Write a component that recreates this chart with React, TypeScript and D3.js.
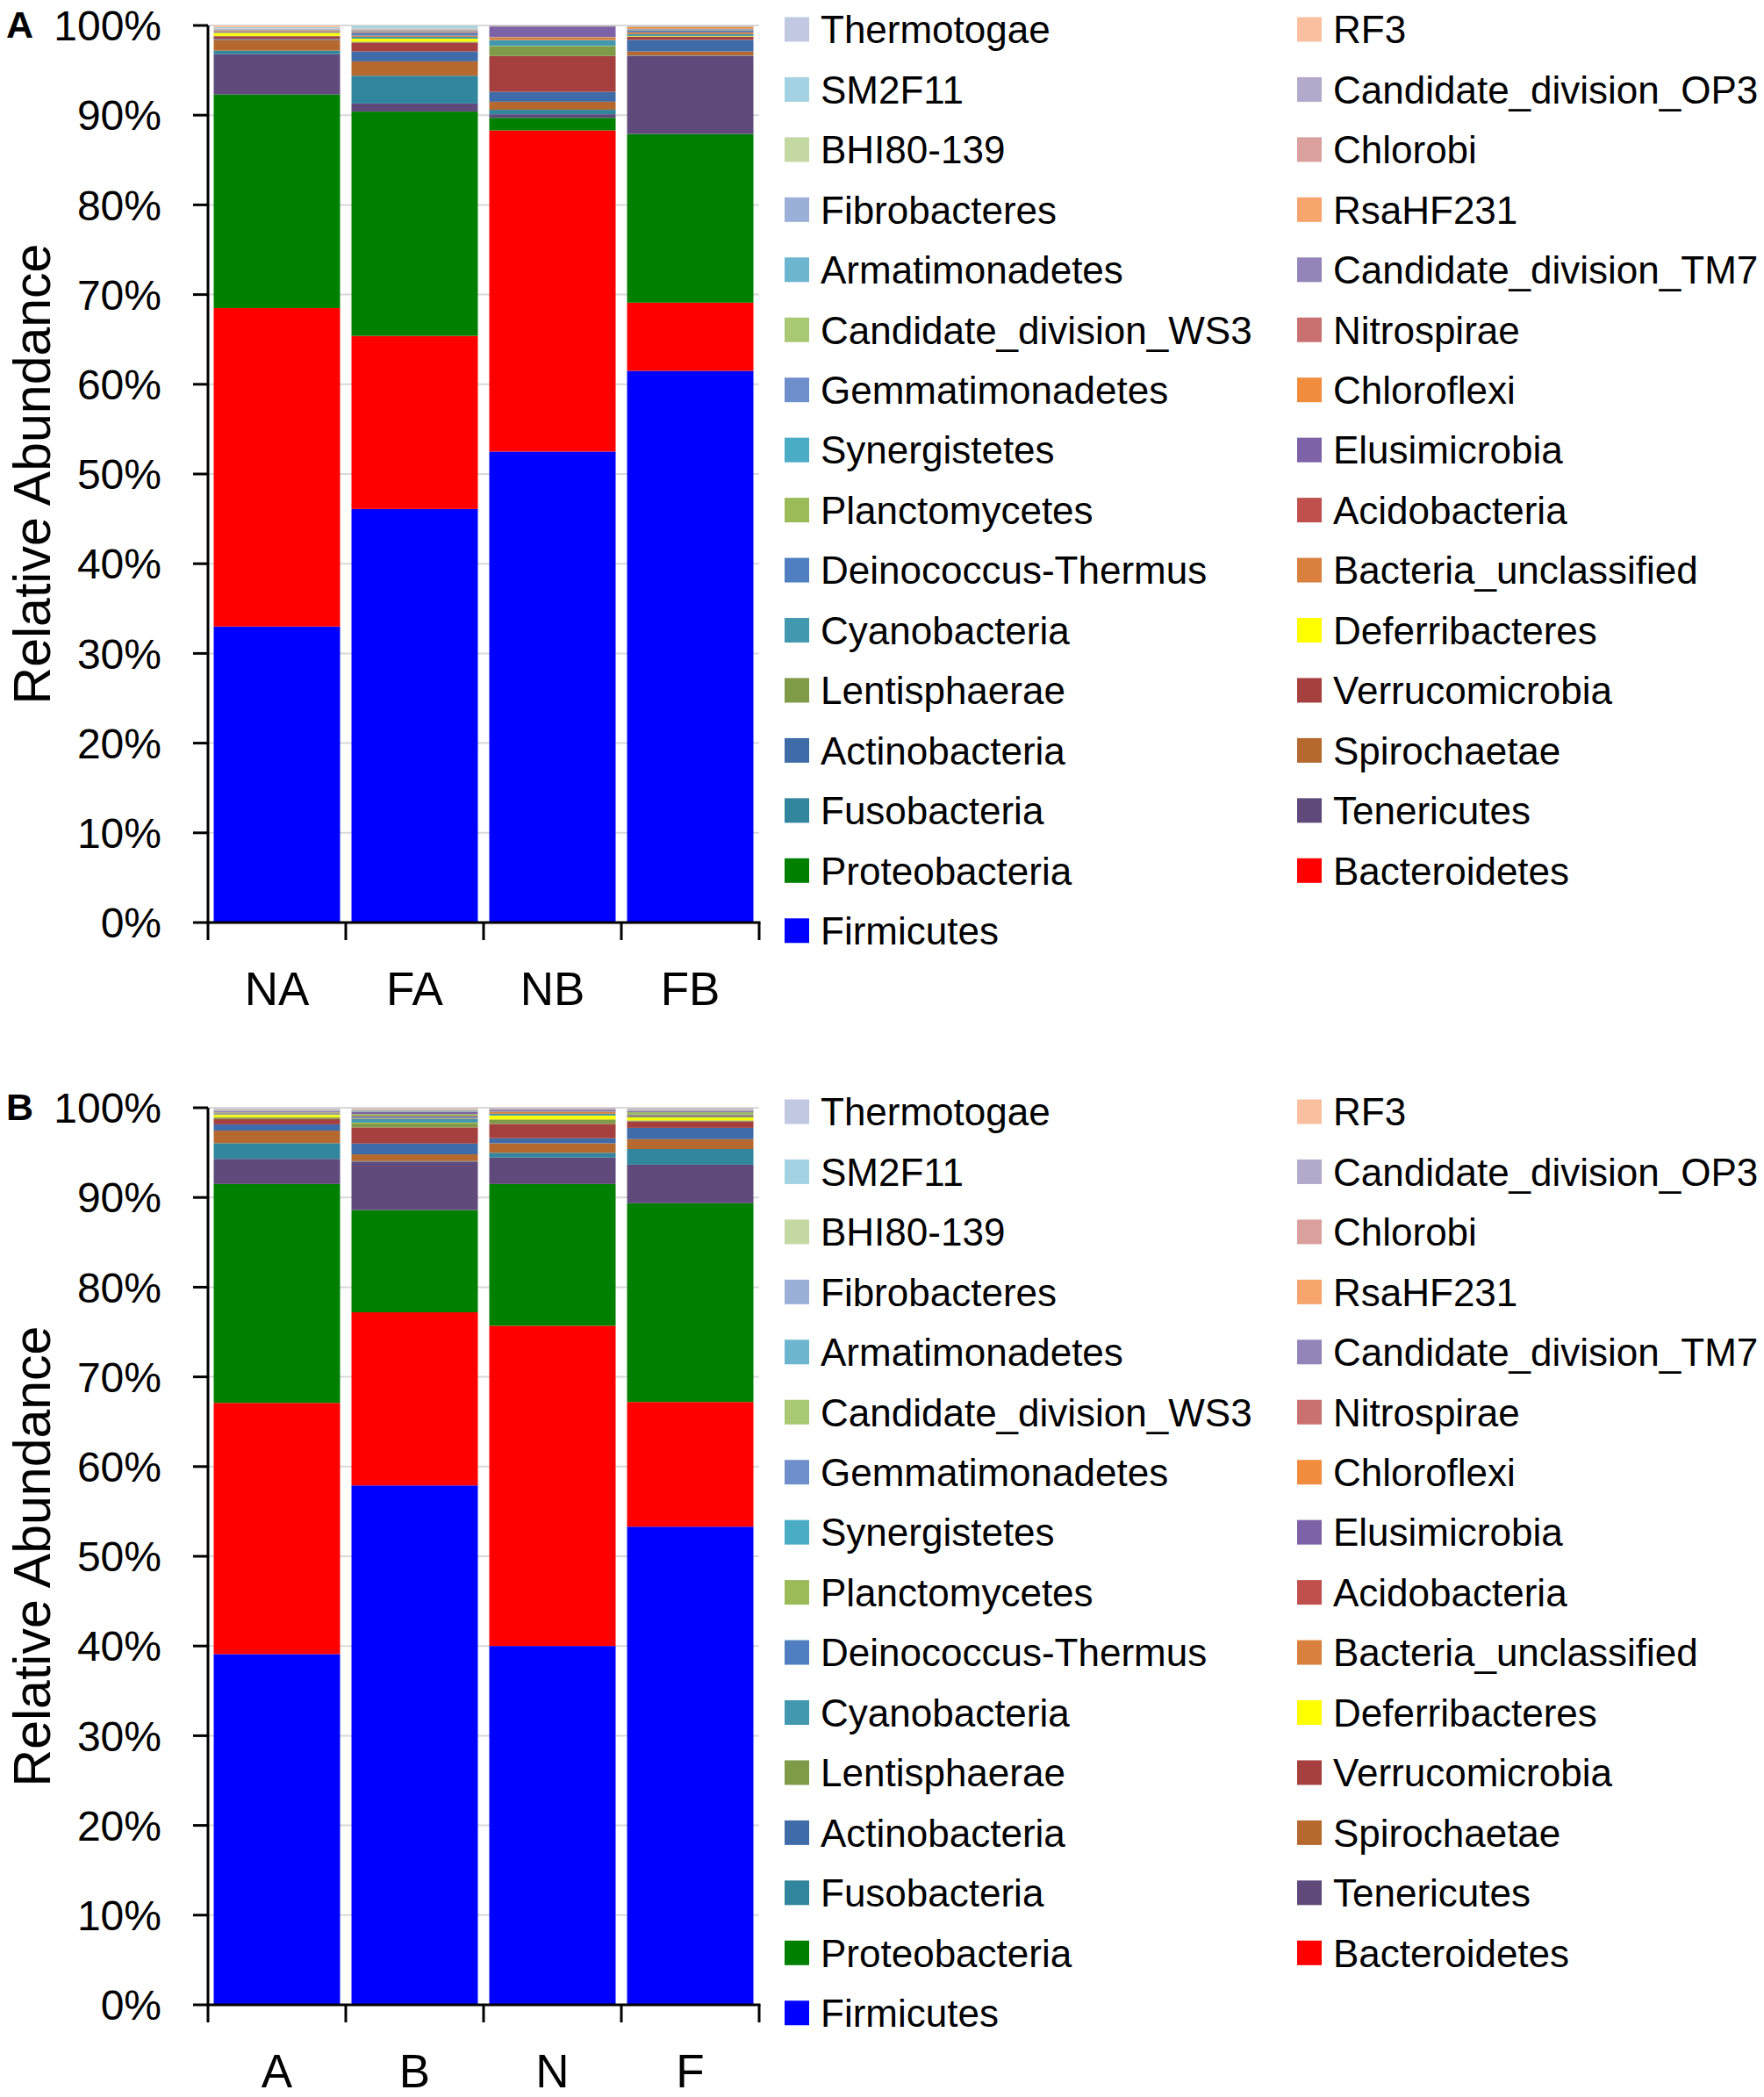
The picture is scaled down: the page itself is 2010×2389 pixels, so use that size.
import React from 'react';
import * as d3 from 'd3';

// Stack order (bottom to top)
const taxa = [
  'Firmicutes', 'Bacteroidetes', 'Proteobacteria', 'Tenericutes', 'Fusobacteria',
  'Spirochaetae', 'Actinobacteria', 'Verrucomicrobia', 'Lentisphaerae', 'Deferribacteres',
  'Cyanobacteria', 'Bacteria_unclassified', 'Deinococcus-Thermus', 'Acidobacteria', 'Planctomycetes',
  'Elusimicrobia', 'Synergistetes', 'Chloroflexi', 'Gemmatimonadetes', 'Nitrospirae',
  'Candidate_division_WS3', 'Candidate_division_TM7', 'Armatimonadetes', 'RsaHF231', 'Fibrobacteres',
  'Chlorobi', 'BHI80-139', 'Candidate_division_OP3', 'SM2F11', 'RF3', 'Thermotogae',
];

const taxaColors = [
  '#0000FF', '#FF0000', '#008000', '#5F4A7B', '#31859C',
  '#B5692F', '#3F6CA8', '#A5403E', '#7F9B48', '#FFFF00',
  '#4198AF', '#D9803F', '#4F7FC0', '#C0504D', '#9BBB59',
  '#7E62A8', '#4BACC6', '#F08C3C', '#6F8FCC', '#C87170',
  '#A9C874', '#9384BA', '#6CB6CF', '#F7A46D', '#9BB0D8',
  '#D9A09E', '#C4D8A2', '#B3AACB', '#A3D2E2', '#F9C09F', '#C0C8E2',
];

const samplesA = ['NA', 'FA', 'NB', 'FB'];
const samplesB = ['A', 'B', 'N', 'F'];

// Relative abundance (%) per sample, in taxa order
const valuesNA = [33.0, 35.5, 23.8, 4.5, 0.4, 1.2, 0.1, 0.3, 0.05, 0.3, 0.05, 0.1, 0.05, 0.05, 0.03, 0.03, 0.03, 0.02, 0.02, 0.02, 0.02, 0.02, 0.02, 0.02, 0.02, 0.02, 0.02, 0.02, 0.1, 0.2, 0.02];
const valuesFA = [46.1, 19.3, 25.0, 0.9, 3.1, 1.6, 1.1, 1.0, 0.1, 0.33, 0.2, 0.15, 0.3, 0.1, 0.05, 0.05, 0.05, 0.05, 0.02, 0.02, 0.02, 0.02, 0.02, 0.02, 0.02, 0.02, 0.02, 0.02, 0.3, 0.02, 0.03];
const valuesNB = [52.5, 35.8, 1.4, 0.4, 0.5, 0.9, 1.1, 4.0, 1.1, 0.02, 0.65, 0.3, 0.02, 0.02, 0.02, 1.15, 0.01, 0.01, 0.01, 0.01, 0.01, 0.01, 0.01, 0.01, 0.01, 0.01, 0.01, 0.01, 0.01, 0.01, 0.01];
const valuesFB = [61.5, 7.6, 18.8, 8.7, 0.05, 0.45, 1.3, 0.33, 0.05, 0.05, 0.2, 0.2, 0.2, 0.05, 0.05, 0.05, 0.05, 0.2, 0.01, 0.01, 0.01, 0.01, 0.01, 0.01, 0.01, 0.01, 0.01, 0.01, 0.01, 0.01, 0.08];
const valuesA = [39.1, 28.0, 24.4, 2.8, 1.75, 1.4, 0.7, 0.6, 0.2, 0.25, 0.08, 0.08, 0.05, 0.05, 0.05, 0.08, 0.03, 0.03, 0.03, 0.02, 0.02, 0.03, 0.02, 0.02, 0.05, 0.02, 0.02, 0.03, 0.02, 0.02, 0.03];
const valuesB = [57.9, 19.3, 11.4, 5.4, 0.05, 0.76, 1.2, 1.8, 0.5, 0.03, 0.43, 0.1, 0.15, 0.08, 0.2, 0.25, 0.05, 0.03, 0.03, 0.03, 0.03, 0.05, 0.02, 0.05, 0.02, 0.02, 0.02, 0.02, 0.02, 0.05, 0.02];
const valuesN = [40.0, 35.7, 15.8, 2.95, 0.53, 1.06, 0.56, 1.6, 0.5, 0.43, 0.2, 0.2, 0.03, 0.03, 0.03, 0.15, 0.02, 0.02, 0.01, 0.03, 0.01, 0.03, 0.01, 0.01, 0.01, 0.03, 0.01, 0.01, 0.01, 0.02, 0.01];
const valuesF = [53.3, 13.9, 22.15, 4.3, 1.75, 1.1, 1.26, 0.73, 0.1, 0.33, 0.1, 0.1, 0.08, 0.05, 0.25, 0.1, 0.03, 0.02, 0.02, 0.02, 0.05, 0.05, 0.02, 0.02, 0.05, 0.02, 0.02, 0.02, 0.02, 0.02, 0.05];

const yTicks = [0, 10, 20, 30, 40, 50, 60, 70, 80, 90, 100];

const FONT = '"Liberation Sans", Arial, Helvetica, sans-serif';

function Panel({ letter, samples, values, offsetY }: { letter: string; samples: string[]; values: number[][]; offsetY: number }) {
  const left = 237, right = 865, top = 29, bottom = 1051;
  const x = d3.scaleBand<string>().domain(samples).range([left, right]).paddingInner(0.083).paddingOuter(0.0415);
  const y = d3.scaleLinear().domain([0, 100]).range([bottom, top]);
  const rows = samples.map((s, i) => {
    const r: any = { sample: s };
    taxa.forEach((t, j) => { r[t] = values[i][j]; });
    return r;
  });
  const stacked = d3.stack<any>().keys(taxa)(rows);
  const step = x.step();
  const boundaries = d3.range(samples.length + 1).map((i) => left + i * step);

  const rowPitch = 68.45;
  const firstRow = 33.5;
  const legendRows = d3.range(16);

  return (
    <g transform={`translate(0,${offsetY})`}>
      <text x={7} y={43} fontFamily={FONT} fontWeight="bold" fontSize={43}>{letter}</text>
      {/* grid lines */}
      {yTicks.filter((t) => t > 0).map((t) => (
        <line key={'g' + t} x1={left} x2={right} y1={y(t)} y2={y(t)} stroke="#D9D9D9" strokeWidth={2} />
      ))}
      {/* bars */}
      {stacked.map((layer, li) => (
        <g key={layer.key} fill={taxaColors[li]}>
          {layer.map((d, di) => {
            const y0 = y(d[0]);
            const y1 = y(Math.min(d[1], 100));
            return <rect key={di} x={x(samples[di])} width={x.bandwidth()} y={y1} height={Math.max(0, y0 - y1)} />;
          })}
        </g>
      ))}
      {/* y axis */}
      <line x1={left} x2={left} y1={top} y2={bottom} stroke="#000" strokeWidth={3} />
      {yTicks.map((t) => (
        <g key={'t' + t}>
          <line x1={left - 17} x2={left} y1={y(t)} y2={y(t)} stroke="#000" strokeWidth={3} />
          <text x={184} y={y(t)} dy="0.36em" textAnchor="end" fontFamily={FONT} fontSize={48}>{t + '%'}</text>
        </g>
      ))}
      <text transform={`translate(57,${540}) rotate(-90)`} textAnchor="middle" fontFamily={FONT} fontSize={59}>Relative Abundance</text>
      {/* x axis */}
      <line x1={left - 1.5} x2={right + 1.5} y1={bottom} y2={bottom} stroke="#000" strokeWidth={3} />
      {boundaries.map((b, i) => (
        <line key={'b' + i} x1={b} x2={b} y1={bottom} y2={bottom + 20} stroke="#000" strokeWidth={3} />
      ))}
      {samples.map((s) => (
        <text key={s} x={(x(s) as number) + x.bandwidth() / 2} y={1145} textAnchor="middle" fontFamily={FONT} fontSize={53}>{s}</text>
      ))}
      {/* legend */}
      {legendRows.map((r) => {
        const cy = firstRow + r * rowPitch;
        const li = taxa.length - 1 - 2 * r;
        const ri = taxa.length - 2 - 2 * r;
        return (
          <g key={'l' + r}>
            {li >= 0 && (
              <g>
                <rect x={894} y={cy - 14} width={28} height={28} fill={taxaColors[li]} />
                <text x={935} y={cy} dy="0.36em" fontFamily={FONT} fontSize={44}>{taxa[li]}</text>
              </g>
            )}
            {ri >= 0 && (
              <g>
                <rect x={1478} y={cy - 14} width={28} height={28} fill={taxaColors[ri]} />
                <text x={1519} y={cy} dy="0.36em" fontFamily={FONT} fontSize={44}>{taxa[ri]}</text>
              </g>
            )}
          </g>
        );
      })}
    </g>
  );
}

export default function App() {
  return (
    <svg width={2010} height={2389} style={{ position: 'absolute', left: 0, top: 0, background: '#fff' }}>
      <rect width={2010} height={2389} fill="#fff" />
      <Panel letter="A" samples={samplesA} values={[valuesNA, valuesFA, valuesNB, valuesFB]} offsetY={0} />
      <Panel letter="B" samples={samplesB} values={[valuesA, valuesB, valuesN, valuesF]} offsetY={1233} />
    </svg>
  );
}
